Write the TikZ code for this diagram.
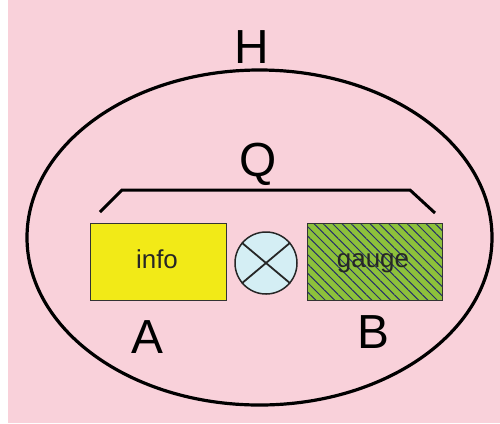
\documentclass[tikz,border=0pt]{standalone}
\usepackage{fontspec}
\setmainfont{Liberation Sans}
\usetikzlibrary{patterns.meta,shapes.geometric}
\definecolor{bgpink}{HTML}{F9D1DA}
\definecolor{boxyellow}{HTML}{F2EA17}
\definecolor{boxgreen}{HTML}{8DC13B}
\definecolor{hatchblue}{HTML}{26306A}
\definecolor{opblue}{HTML}{D4EEF4}
\definecolor{edgegray}{HTML}{333333}
\tikzset{
  bigletter/.style={anchor=base, font=\fontsize{48}{48}\selectfont, text=black, inner sep=0pt},
  boxtext/.style={anchor=base, font=\fontsize{26}{26}\selectfont, text=black!85, inner sep=0pt},
  rectbox/.style={draw=edgegray, line width=1bp},
  outline/.style={draw=black, line width=3.2bp},
}
\begin{document}
\begin{tikzpicture}[x=1bp, y=-1bp]
\useasboundingbox (0,0) rectangle (500,423);
\fill[white] (0,0) rectangle (500,423);
\fill[bgpink] (8,0) rectangle (500,423);
% outer ellipse
\node[outline, shape=ellipse, minimum width=465bp, minimum height=335bp, inner sep=0pt] (H) at (259.5,237.5) {};
\node[bigletter] (Hl) at (252,63) {H};
% bracket
\coordinate (b1) at (100,212);
\coordinate (b2) at (122,190);
\coordinate (b3) at (410,190);
\coordinate (b4) at (435,213);
\draw[line width=3bp] (b1) -- (b2) -- (b3) -- (b4);
\node[bigletter] (Ql) at (258,176) {Q};
% boxes
\draw[rectbox, fill=boxyellow] (90,223) rectangle (226,300);
\node[boxtext] (info) at (157,268) {info};
\fill[boxgreen] (307,223) rectangle (442,300);
\fill[pattern={Lines[angle=-45, distance=6.6bp, line width=1bp]}, pattern color=hatchblue] (307,223) rectangle (442,300);
\draw[rectbox] (307,223) rectangle (442,300);
\node[boxtext] (gauge) at (373,267) {gauge};
% operator
\node[circle, draw=black!85, line width=1.5bp, fill=opblue, minimum size=62bp, inner sep=0pt] (op) at (266,263) {};
\draw[line width=1.8bp, black!85] (op.40) -- (op.220) (op.140) -- (op.320);
\node[bigletter] (A) at (147,353) {A};
\node[bigletter] (B) at (373,348) {B};
\end{tikzpicture}
\end{document}
